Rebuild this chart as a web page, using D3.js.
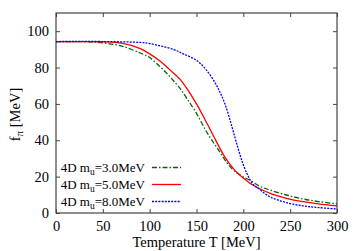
<!DOCTYPE html>
<html><head><meta charset="utf-8">
<script src="https://cdn.jsdelivr.net/npm/d3@7"></script>
<style>body{margin:0;background:#fff}svg{display:block}</style>
</head><body><svg id="c" width="358" height="251"></svg>
<script>
const xTicks = [0,50,100,150,200,250,300];
const yTicks = [0,20,40,60,80,100];
const seriesNames = ["3.0","5.0","8.0"];
const seriesColors = ["#006400","#ff0000","#0000ff"];
const seriesDash = ["5,2,1.5,2","none","2,1.2"];
const tGreen = [0,30,50,70,90,100,111,118,125,132,140,150,159,166,175,182,190,200,207,218,228,246,264,280,300];
const fGreen = [94.3,94.2,93.6,91.8,88,85.5,80.5,77,73,68.8,62.8,54.8,46.2,40.3,33.5,28,23.3,19.8,18,14.6,12.7,9.9,7.7,6.3,5.0];
const tRed = [0,30,50,70,90,100,111,121,132,141,150,160,170,180,190,200,207,214,228,246,264,280,300];
const fRed = [94.3,94.3,94.2,93.4,90.4,87.5,83.6,79,73.8,67.5,60,50.5,40.5,31,24,19.2,16.4,14.3,10.9,8.1,6.2,5.0,3.9];
const tBlue = [0,50,90,100,125,136,150,160,170,175,180,185,190,195,200,205,210,218,228,246,264,280,300];
const fBlue = [94.3,94.3,93.8,93.2,90,87.5,84,79,71.5,66.5,60.5,52.5,43.5,34.5,26.5,20.5,16,12.7,9,5.7,3.9,3,2.2];

const FF = "'Liberation Serif','Times New Roman',Times,'DejaVu Serif',serif";
const svg = d3.select("#c");
const L=56, R=337, T=13, B=213;
const x = d3.scaleLinear().domain([0,300]).range([L,R]);
const y = d3.scaleLinear().domain([0,110]).range([B,T]);
const frame="#444";

const gx = svg.append("g").attr("transform",`translate(0,${B})`)
  .call(d3.axisBottom(x).tickValues(xTicks).tickSizeInner(-4).tickSizeOuter(0).tickPadding(7.5));
const gxt = svg.append("g").attr("transform",`translate(0,${T})`)
  .call(d3.axisTop(x).tickValues(xTicks).tickSizeInner(-4).tickSizeOuter(0).tickFormat(""));
const gy = svg.append("g").attr("transform",`translate(${L},0)`)
  .call(d3.axisLeft(y).tickValues(yTicks).tickSizeInner(-4).tickSizeOuter(0).tickPadding(7));
const gyr = svg.append("g").attr("transform",`translate(${R},0)`)
  .call(d3.axisRight(y).tickValues(yTicks).tickSizeInner(-4).tickSizeOuter(0).tickFormat(""));
[gx,gxt,gy,gyr].forEach(g=>{g.attr("font-family",FF).attr("font-size",14.5);
  g.select(".domain").remove();g.selectAll("line").attr("stroke",frame);
  g.selectAll("text").attr("fill","#000");});
svg.append("rect").attr("x",L).attr("y",T).attr("width",R-L).attr("height",B-T)
  .attr("fill","none").attr("stroke",frame).attr("stroke-width",1.2);

const series = [[tGreen,fGreen],[tRed,fRed],[tBlue,fBlue]];
const line = d3.line().x(d=>x(d[0])).y(d=>y(d[1])).curve(d3.curveCatmullRom.alpha(0.5));
svg.append("clipPath").attr("id","cp").append("rect").attr("x",L).attr("y",T).attr("width",R-L).attr("height",B-T);
series.forEach((s,i)=>{
  const pts = s[0].map((t,j)=>[t,s[1][j]]);
  svg.append("path").attr("d",line(pts)).attr("fill","none").attr("stroke",seriesColors[i])
    .attr("stroke-width",1.3).attr("stroke-dasharray",seriesDash[i]).attr("clip-path","url(#cp)");
});

const ly=[167.5,184.5,201.5];
seriesNames.forEach((n,i)=>{
  const t = svg.append("text").attr("x",145).attr("y",ly[i]+4).attr("text-anchor","end")
    .attr("font-size",13).attr("font-family",FF);
  t.append("tspan").text("4D m");
  t.append("tspan").attr("font-size",9.5).attr("dy",3).text("u");
  t.append("tspan").attr("dy",-3).text("="+n+"MeV");
  svg.append("line").attr("x1",152).attr("x2",181).attr("y1",ly[i]).attr("y2",ly[i])
    .attr("stroke",seriesColors[i]).attr("stroke-width",1.3).attr("stroke-dasharray",seriesDash[i]);
});

svg.append("text").attr("x",(L+R)/2).attr("y",247).attr("text-anchor","middle").attr("font-size",14.5)
  .attr("font-family",FF).text("Temperature T [MeV]");
const yl = svg.append("text").attr("transform","translate(20,114.5) rotate(-90)").attr("text-anchor","middle")
  .attr("font-size",14.5).attr("font-family",FF);
yl.append("tspan").text("f");
yl.append("tspan").attr("font-size",11).attr("dy",3).text("π");
yl.append("tspan").attr("dy",-3).text(" [MeV]");
</script></body></html>
